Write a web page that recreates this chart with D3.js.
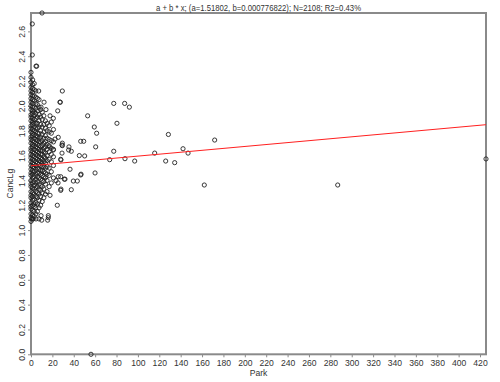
<!DOCTYPE html>
<html><head><meta charset="utf-8">
<script src="https://cdn.jsdelivr.net/npm/d3@7"></script>
<style>body{margin:0;background:#fff}svg{display:block}text{font-family:"Liberation Sans",Arial,sans-serif}</style>
</head><body><svg id="c" width="500" height="382"></svg>
<script>
// ---- data ----
const titleText = "a + b * x; (a=1.51802, b=0.000776822); N=2108; R2=0.43%";
const xLabel = "Park";
const yLabel = "CancLg";
const xTicks = [0,20,40,60,80,100,120,140,160,180,200,220,240,260,280,300,320,340,360,380,400,420];
const yTicks = [0,0.2,0.4,0.6,0.8,1.0,1.2,1.4,1.6,1.8,2.0,2.2,2.4,2.6];
const fitA = 1.51802, fitB = 0.000776822;
const xMax = 425.6, yMax = 2.748;
// dense cluster near Park≈0: column x positions and their CancLg values
const clusterX = [0,1.5,3,4.5,6,7.5,9,10.5,12,13.5,15,17,19,21];
const clusterY = [
 [1.07,1.10,1.13,1.17,1.19,1.22,1.26,1.28,1.31,1.35,1.37,1.40,1.44,1.46,1.49,1.52,1.55,1.58,1.61,1.64,1.66,1.70,1.73,1.75,1.79,1.82,1.84,1.88,1.91,1.93,1.97,2.00,2.03,2.06,2.09,2.12,2.15,2.19,2.23,2.27],
 [1.09,1.12,1.16,1.20,1.24,1.27,1.30,1.34,1.38,1.42,1.45,1.48,1.51,1.54,1.57,1.60,1.63,1.67,1.69,1.72,1.76,1.78,1.81,1.85,1.87,1.90,1.94,1.96,1.99,2.02,2.05,2.08,2.11,2.14,2.17,2.21],
 [1.11,1.15,1.19,1.21,1.25,1.29,1.33,1.36,1.39,1.43,1.47,1.50,1.53,1.56,1.59,1.62,1.65,1.68,1.71,1.74,1.77,1.80,1.83,1.86,1.89,1.92,1.95,1.99,2.04,2.08,2.13,2.18],
 [1.13,1.18,1.22,1.27,1.31,1.34,1.38,1.41,1.45,1.49,1.52,1.55,1.58,1.61,1.64,1.67,1.70,1.73,1.76,1.79,1.82,1.86,1.90,1.94,1.98,2.02,2.07,2.12],
 [1.15,1.21,1.26,1.30,1.35,1.39,1.43,1.46,1.50,1.54,1.57,1.60,1.63,1.66,1.69,1.72,1.75,1.78,1.82,1.86,1.91,1.96,2.01,2.06],
 [1.18,1.24,1.29,1.33,1.37,1.42,1.46,1.49,1.53,1.56,1.59,1.62,1.65,1.68,1.71,1.74,1.78,1.83,1.88,1.93,1.99,2.05],
 [1.20,1.27,1.32,1.36,1.41,1.45,1.48,1.52,1.55,1.58,1.61,1.64,1.67,1.71,1.75,1.80,1.85,1.91,1.97],
 [1.23,1.30,1.35,1.40,1.44,1.48,1.51,1.54,1.57,1.61,1.64,1.68,1.72,1.77,1.83,1.89,1.95],
 [1.26,1.33,1.39,1.43,1.47,1.51,1.55,1.59,1.63,1.66,1.70,1.74,1.79,1.85,1.92],
 [1.29,1.37,1.42,1.46,1.50,1.54,1.58,1.62,1.67,1.71,1.76,1.82,1.88],
 [1.31,1.40,1.45,1.51,1.56,1.60,1.65,1.69,1.74,1.80,1.86],
 [1.35,1.44,1.50,1.57,1.63,1.68,1.73,1.79,1.84],
 [1.38,1.47,1.55,1.61,1.66,1.72,1.78,1.87],
 [1.42,1.52,1.59,1.65,1.71,1.81]
];
// scattered points read individually
const parkVals = [10.3,1.2,1.2,5.3,4.7,7.2,29.3,27.4,27.1,12.2,14.0,9.4,25.0,20.9,17.8,77.4,87.6,92.0,53.0,59.2,80.4,61.4,128.5,46.5,49.3,60.5,35.5,35.2,37.7,29.3,29.3,29.0,77.4,115.7,50.2,28.0,73.6,87.9,97.0,126.0,134.4,36.5,46.5,59.9,31.2,39.6,43.3,27.8,28.0,37.7,171.8,142.2,146.9,162.1,286.9,425.6,56.1,22.5,25.5,29.0,20.9,17.1,27.8,25.5,23.4,25.3,31.8,27.8,17.8,24.6,16.2,9.4,45.2,46.8,0.6,2.1,4.7,7.5,16.2,10.0,15.6];
const cancVals = [2.748,2.66,2.41,2.32,2.32,2.12,2.12,2.03,2.03,2.03,1.97,1.99,1.96,1.90,1.92,2.02,2.02,1.99,1.92,1.83,1.86,1.78,1.77,1.715,1.715,1.67,1.67,1.645,1.635,1.70,1.68,1.62,1.635,1.62,1.597,1.565,1.567,1.575,1.556,1.556,1.543,1.49,1.444,1.46,1.41,1.395,1.395,1.43,1.33,1.325,1.725,1.655,1.62,1.363,1.363,1.573,0.0,1.733,1.747,1.685,1.645,1.67,1.57,1.43,1.398,1.38,1.41,1.32,1.28,1.20,1.116,1.116,1.60,1.45,1.09,1.09,1.09,1.09,1.10,1.08,1.08];

// ---- chart ----
const svg = d3.select("#c");
const L=31, R=486, T=13, B=354.3;
const x = d3.scaleLinear().domain([0,xMax]).range([L,R]);
const y = d3.scaleLinear().domain([0,yMax]).range([B,T]);
const axisCol = "#8a8a8a", txtCol = "#333";
const fs = "8.6px";

svg.append("rect").attr("width",500).attr("height",382).attr("fill","#fff");

// axes
const gx = svg.append("g").attr("transform",`translate(0,${B})`)
  .call(d3.axisBottom(x).tickValues(xTicks).tickSize(3).tickSizeOuter(0).tickPadding(3).tickFormat(d3.format("d")));
const gy = svg.append("g").attr("transform",`translate(${L},0)`)
  .call(d3.axisLeft(y).tickValues(yTicks).tickSize(3).tickSizeOuter(0).tickPadding(3).tickFormat(d3.format(".1f")));
[gx,gy].forEach(g=>{
  g.select(".domain").remove();
  g.selectAll(".tick line").attr("stroke",axisCol);
  g.selectAll(".tick text").attr("fill",txtCol).style("font-size",fs).style("font-family","'Liberation Sans',Arial,sans-serif");
});
gy.selectAll(".tick text").attr("x",0).attr("dy",0)
  .attr("transform","translate(-9,0) rotate(-90)").attr("text-anchor","middle").attr("dominant-baseline","central");

// frame
svg.append("rect").attr("x",L).attr("y",T).attr("width",R-L).attr("height",B-T)
  .attr("fill","none").attr("stroke",axisCol).attr("stroke-width",2);

// points
const pts = [];
clusterX.forEach((cx,i)=>clusterY[i].forEach(v=>pts.push([cx,v])));
parkVals.forEach((p,i)=>pts.push([p,cancVals[i]]));
svg.append("g").selectAll("circle").data(pts).join("circle")
  .attr("cx",d=>x(d[0])).attr("cy",d=>y(d[1])).attr("r",2.1)
  .attr("fill","none").attr("stroke","#222").attr("stroke-width",0.9);

// fit line
svg.append("line").attr("x1",x(0)).attr("y1",y(fitA)).attr("x2",x(xMax)).attr("y2",y(fitA+fitB*xMax))
  .attr("stroke","#ff2020").attr("stroke-width",1);

// titles
svg.append("text").attr("x",(L+R)/2).attr("y",10.5).attr("text-anchor","middle")
  .attr("textLength",205).attr("lengthAdjust","spacingAndGlyphs")
  .style("font-size","9px").attr("fill",txtCol).text(titleText);
svg.append("text").attr("x",(L+R)/2).attr("y",376).attr("text-anchor","middle")
  .style("font-size",fs).attr("fill",txtCol).text(xLabel);
svg.append("text").attr("transform",`translate(10,${(T+B)/2}) rotate(-90)`).attr("text-anchor","middle")
  .attr("dominant-baseline","central").style("font-size",fs).attr("fill",txtCol).text(yLabel);
</script></body></html>
